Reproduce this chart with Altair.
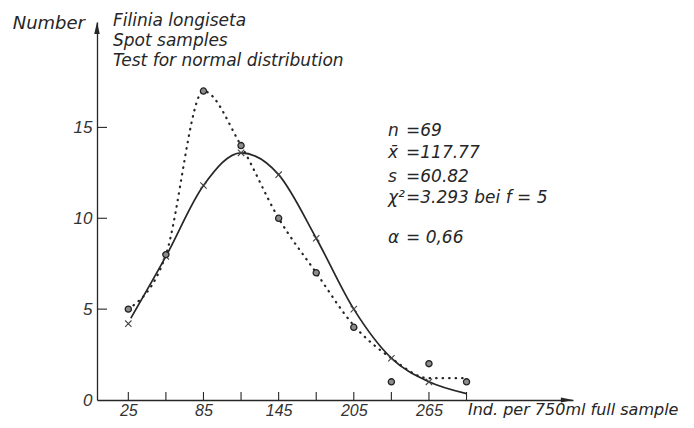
import altair as alt
import pandas as pd

# ---------------- data ----------------
classes = [25, 55, 85, 115, 145, 175, 205, 235, 265, 295]
observed = [5, 8, 17, 14, 10, 7, 4, 1, 2, 1]
expected_classes = [25, 55, 85, 115, 145, 175, 205, 235, 265]
expected = [4.2, 7.9, 11.8, 13.6, 12.4, 8.9, 5.0, 2.3, 1.0]
normal_curve_x = [27, 55, 85, 115, 145, 175, 205, 235, 265, 295]
normal_curve_y = [4.5, 7.9, 11.8, 13.6, 12.4, 8.9, 5.0, 2.3, 1.0, 0.35]
observed_curve_x = [25, 55, 85, 115, 145, 175, 205, 235, 265, 295]
observed_curve_y = [5, 8, 17, 14, 10, 7, 4.1, 2.3, 1.2, 1.2]
x_tick_values = [25, 55, 85, 115, 145, 175, 205, 235, 265, 295]
x_label_values = [25, 85, 145, 205, 265]
y_tick_values = [5, 10, 15]
y_label_values = [0, 5, 10, 15]
x_max = 380
y_max = 20.8
y_axis_title = "Number"
x_axis_title = "Ind. per 750ml full sample"
title_lines = ["Filinia longiseta", "Spot samples", "Test for normal distribution"]
stat_symbols = ["n", "x̄", "s", "χ²", "α"]
stat_values = ["=69", "=117.77", "=60.82", "=3.293 bei f = 5", "= 0,66"]

# ---------------- styling ----------------
FONT = "DejaVu Sans"
NUMFONT = "Liberation Sans"
INK = "#262626"
W, H = 476, 378

xs = alt.Scale(domain=[0, x_max], nice=False, zero=False)
ys = alt.Scale(domain=[0, y_max], nice=False, zero=False)

X = alt.X("x:Q", scale=xs, axis=alt.Axis(
    values=x_label_values, ticks=False, tickSize=0, grid=False, title=None,
    labelFont=NUMFONT, labelFontStyle="italic", labelFontSize=16, labelColor="#333",
    labelPadding=2, domainColor=INK, domainWidth=1.3, labelFlush=False))
Y = alt.Y("y:Q", scale=ys, axis=alt.Axis(
    values=y_label_values, ticks=False, tickSize=0, grid=False, title=None,
    labelFont=NUMFONT, labelFontStyle="italic", labelFontSize=17, labelColor="#333",
    labelPadding=5, domainColor=INK, domainWidth=1.3, labelFlush=False))

obs_df = pd.DataFrame({"x": classes, "y": observed})
exp_df = pd.DataFrame({"x": expected_classes, "y": expected})
ncurve_df = pd.DataFrame({"x": normal_curve_x, "y": normal_curve_y})
ocurve_df = pd.DataFrame({"x": observed_curve_x, "y": observed_curve_y})

axes = alt.Chart(pd.DataFrame({"x": [0], "y": [0]})).mark_point(opacity=0).encode(x=X, y=Y)

normal_line = alt.Chart(ncurve_df).mark_line(
    interpolate="monotone", color=INK, strokeWidth=1.7).encode(x=X, y=Y)
obs_line = alt.Chart(ocurve_df).mark_line(
    interpolate="monotone", color=INK, strokeWidth=2.2,
    strokeDash=[0.5, 6], strokeCap="round").encode(x=X, y=Y)

obs_pts = alt.Chart(obs_df).mark_point(
    shape="circle", filled=True, fill="#8c8c8c", stroke="#222", strokeWidth=1.3,
    size=38, opacity=1).encode(x=X, y=Y)
exp_pts = alt.Chart(exp_df).mark_point(
    shape="M-1,-1L1,1M-1,1L1,-1", filled=False, stroke="#444", strokeWidth=1.1,
    size=40, opacity=1).encode(x=X, y=Y)

xticks = alt.Chart(pd.DataFrame({"x": x_tick_values})).mark_rule(
    color=INK, strokeWidth=1.1, yOffset=-8).encode(x=X, y=alt.datum(0), y2=alt.datum(0))
yticks = alt.Chart(pd.DataFrame({"y": y_tick_values})).mark_rule(
    color=INK, strokeWidth=1.1, x2Offset=10).encode(y=Y, x=alt.datum(0), x2=alt.datum(0))

one = pd.DataFrame({"a": [0]})
y_arrow = alt.Chart(one).mark_point(
    shape="M0,-1L0.45,1L-0.45,1Z", filled=True, color=INK, size=150, opacity=1,
    yOffset=6).encode(x=alt.datum(0), y=alt.datum(y_max))
x_arrow = alt.Chart(one).mark_point(
    shape="M1,0L-1,-0.4L-1,0.4Z", filled=True, color=INK, size=150, opacity=1,
    xOffset=-6).encode(x=alt.datum(x_max), y=alt.datum(0))

def label(text, x, y, align="left", size=16):
    return alt.Chart(pd.DataFrame({"t": [text]})).mark_text(
        align=align, baseline="middle", font=FONT, fontStyle="italic",
        fontSize=size, color=INK).encode(
        x=alt.value(x), y=alt.value(y), text="t:N")

texts = [label(y_axis_title, -12, 2, align="right", size=18)]
for i, line in enumerate(title_lines):
    texts.append(label(line, 16, -1 + 20 * i, size=17))
stat_y = [109, 131, 155, 176, 216]
for sym, val, yy in zip(stat_symbols, stat_values, stat_y):
    texts.append(label(sym, 291, yy, size=17))
    texts.append(label(val, 309, yy, size=17))
texts.append(label(x_axis_title, 371, 388, size=16))

chart = alt.layer(
    axes, xticks, yticks, normal_line, obs_line, exp_pts, obs_pts,
    y_arrow, x_arrow, *texts
).properties(
    width=W, height=H,
    padding={"left": 89, "top": 14, "right": 113, "bottom": 20},
    autosize=alt.AutoSizeParams(type="none"),
    background="white",
).configure_view(stroke=None)

chart.save("out.html", embed_options={"renderer": "svg", "actions": False})
